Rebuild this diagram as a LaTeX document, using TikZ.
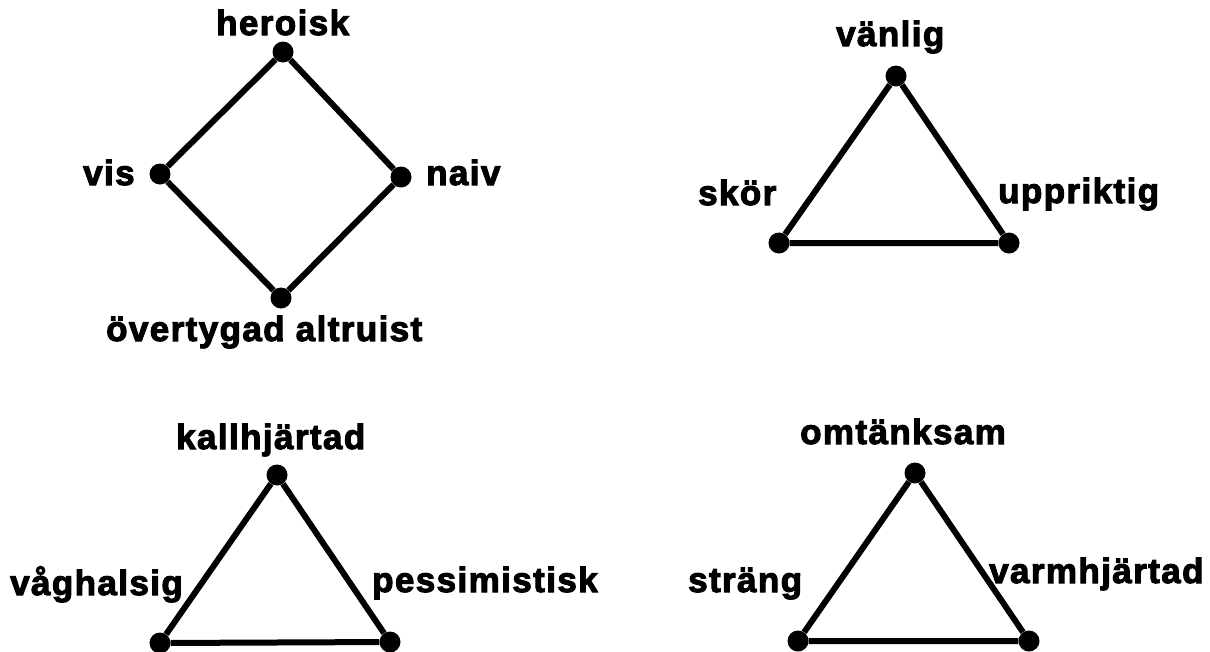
\documentclass[tikz,border=0pt]{standalone}
\usepackage{fontspec}
\setmainfont{Liberation Sans}[LetterSpace=4,BoldFeatures={FakeBold=3}]
\begin{document}
\begin{tikzpicture}[x=1pt,y=-1pt,
  dot/.style={circle,fill=black,inner sep=0pt,minimum size=21pt},
  edge/.style={line width=6pt,black},
  lbl/.style={anchor=base west,inner sep=0pt,font=\fontsize{35}{38}\selectfont\bfseries}]
\useasboundingbox (0,0) rectangle (1210,651);
% diamond
\node[dot] (h) at (283,52) {};
\node[dot] (v) at (160,174) {};
\node[dot] (n) at (401,177) {};
\node[dot] (o) at (281,298) {};
\draw[edge] (h) -- (n) -- (o) -- (v) -- (h);
\node[lbl] (lh) at (216,35) {heroisk};
\node[lbl] (lv) at (83,185) {vis};
\node[lbl] (ln) at (426,185) {naiv};
\node[lbl] (lo) at (106,341) {övertygad altruist};
% triangle 2
\node[dot] (t2) at (896,76) {};
\node[dot] (l2) at (779,243) {};
\node[dot] (r2) at (1009,243) {};
\draw[edge] (t2) -- (r2) -- (l2) -- (t2);
\node[lbl] (lt2) at (836,46) {vänlig};
\node[lbl] (ll2) at (698,205) {skör};
\node[lbl] (lr2) at (998,203) {uppriktig};
% triangle 3
\node[dot] (t3) at (277,475) {};
\node[dot] (l3) at (160,643) {};
\node[dot] (r3) at (390,642) {};
\draw[edge] (t3) -- (r3) -- (l3) -- (t3);
\node[lbl] (lt3) at (176,449) {kallhjärtad};
\node[lbl] (ll3) at (10,595) {våghalsig};
\node[lbl] (lr3) at (372,592) {pessimistisk};
% triangle 4
\node[dot] (t4) at (915,473) {};
\node[dot] (l4) at (798,641) {};
\node[dot] (r4) at (1029,641) {};
\draw[edge] (t4) -- (r4) -- (l4) -- (t4);
\node[lbl] (lt4) at (800,444) {omtänksam};
\node[lbl] (ll4) at (688,592) {sträng};
\node[lbl] (lr4) at (989,583) {varmhjärtad};
\end{tikzpicture}
\end{document}
